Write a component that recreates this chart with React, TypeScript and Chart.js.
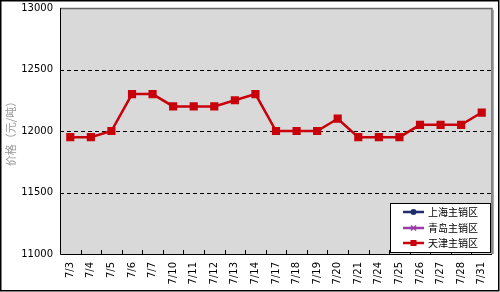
import React, { useEffect, useRef } from "react";
import { Chart, registerables } from "chart.js";

Chart.register(...registerables);

const categories = ["7/3","7/4","7/5","7/6","7/7","7/10","7/11","7/12","7/13","7/14","7/17","7/18","7/19","7/20","7/21","7/24","7/25","7/26","7/27","7/28","7/31"];
const tianjin = [11950,11950,12000,12300,12300,12200,12200,12200,12250,12300,12000,12000,12000,12100,11950,11950,11950,12050,12050,12050,12150];
const shanghai: (number | null)[] = [];
const qingdao: (number | null)[] = [];
const seriesNames = ["上海主销区", "青岛主销区", "天津主销区"];
const seriesColors = ["#1F2F6E", "#9B3BA6", "#C8000A"];
const yTitle = "价格（元/吨）";
const gridValues = [11500, 12000, 12500];

const decorPlugin = {
  id: "decor",
  beforeDraw(chart: any) {
    const { ctx, chartArea: a } = chart;
    const y = chart.scales.y;
    const x = chart.scales.x;
    ctx.save();
    ctx.fillStyle = "#D9D9D9";
    ctx.fillRect(a.left, a.top, a.right - a.left, a.bottom - a.top);
    // dashed grid
    ctx.strokeStyle = "#000";
    ctx.lineWidth = 1;
    ctx.setLineDash([4, 3]);
    for (const v of gridValues) {
      const py = Math.round(y.getPixelForValue(v)) + 0.5;
      ctx.beginPath();
      ctx.moveTo(a.left, py);
      ctx.lineTo(a.right, py);
      ctx.stroke();
    }
    ctx.setLineDash([]);
    // top/right gray border with shadow
    ctx.strokeStyle = "#AAAAAA";
    ctx.lineWidth = 1;
    ctx.beginPath();
    ctx.moveTo(a.right + 1.5, a.top + 2);
    ctx.lineTo(a.right + 1.5, a.bottom);
    ctx.stroke();
    ctx.strokeStyle = "#666666";
    ctx.lineWidth = 1.5;
    ctx.beginPath();
    ctx.moveTo(a.left, a.top + 0.5);
    ctx.lineTo(a.right, a.top + 0.5);
    ctx.lineTo(a.right, a.bottom);
    ctx.stroke();
    // axes
    ctx.strokeStyle = "#000";
    ctx.lineWidth = 1;
    ctx.beginPath();
    ctx.moveTo(a.left + 0.5, a.top);
    ctx.lineTo(a.left + 0.5, a.bottom + 0.5);
    ctx.lineTo(a.right, a.bottom + 0.5);
    ctx.stroke();
    // inner ticks at category boundaries
    const n = categories.length;
    const step = (x.getPixelForValue(1) - x.getPixelForValue(0));
    ctx.beginPath();
    for (let i = 1; i < n; i++) {
      const px = Math.round(x.getPixelForValue(i) - step / 2) + 0.5;
      ctx.moveTo(px, a.bottom);
      ctx.lineTo(px, a.bottom - 4);
    }
    ctx.stroke();
    // y title
    ctx.save();
    ctx.translate(11, (a.top + a.bottom) / 2);
    ctx.rotate(-Math.PI / 2);
    ctx.fillStyle = "#999999";
    ctx.font = "11px 'Noto Sans CJK SC'";
    ctx.textAlign = "center";
    ctx.textBaseline = "middle";
    ctx.fillText(yTitle, 0, 0);
    ctx.restore();
    ctx.restore();
  },
  afterDraw(chart: any) {
    const { ctx } = chart;
    ctx.save();
    // legend
    const lx = 390, ly = 203, lw = 100, lh = 49;
    ctx.fillStyle = "#fff";
    ctx.fillRect(lx, ly, lw, lh);
    ctx.strokeStyle = "#000";
    ctx.lineWidth = 1;
    ctx.strokeRect(lx + 0.5, ly + 0.5, lw, lh);
    const rows = [212, 228, 243];
    for (let i = 0; i < 3; i++) {
      const ry = rows[i];
      const c = seriesColors[i];
      ctx.strokeStyle = c;
      ctx.lineWidth = 2.5;
      ctx.beginPath();
      ctx.moveTo(403, ry);
      ctx.lineTo(424, ry);
      ctx.stroke();
      ctx.fillStyle = c;
      if (i === 0) {
        ctx.beginPath();
        ctx.arc(413.5, ry, 3, 0, Math.PI * 2);
        ctx.fill();
      } else if (i === 1) {
        ctx.lineWidth = 1.5;
        ctx.beginPath();
        ctx.moveTo(411, ry - 2.5);
        ctx.lineTo(416, ry + 2.5);
        ctx.moveTo(416, ry - 2.5);
        ctx.lineTo(411, ry + 2.5);
        ctx.stroke();
      } else {
        ctx.fillRect(410.5, ry - 3, 6, 6);
      }
      ctx.fillStyle = "#000";
      ctx.font = "10px 'Noto Sans CJK SC'";
      ctx.textAlign = "left";
      ctx.textBaseline = "middle";
      ctx.fillText(seriesNames[i], 428, ry);
    }
    // outer frame
    ctx.strokeStyle = "#000";
    ctx.lineWidth = 1.5;
    ctx.strokeRect(0.75, 0.75, 498, 290);
    ctx.restore();
  },
};

export default function App() {
  const ref = useRef<HTMLCanvasElement | null>(null);
  useEffect(() => {
    document.body.style.margin = "0";
    if (!ref.current) return;
    const chart = new Chart(ref.current, {
      type: "line",
      data: {
        labels: categories,
        datasets: [
          { label: seriesNames[0], data: shanghai, borderColor: seriesColors[0], backgroundColor: seriesColors[0], pointStyle: "circle", borderWidth: 2.5, pointRadius: 3 },
          { label: seriesNames[1], data: qingdao, borderColor: seriesColors[1], backgroundColor: seriesColors[1], pointStyle: "crossRot", borderWidth: 2.5, pointRadius: 3 },
          { label: seriesNames[2], data: tianjin, borderColor: seriesColors[2], backgroundColor: seriesColors[2], pointStyle: "rect", borderWidth: 2.5, pointRadius: 4, tension: 0 },
        ],
      },
      options: {
        animation: false,
        responsive: false,
        maintainAspectRatio: false,
        layout: { padding: { top: 8, right: 8, left: 0, bottom: 0 } },
        plugins: { legend: { display: false }, tooltip: { enabled: false } },
        scales: {
          x: {
            type: "category",
            offset: true,
            grid: { display: false, drawTicks: false },
            border: { display: false },
            ticks: {
              autoSkip: false,
              minRotation: 90,
              maxRotation: 90,
              padding: 8,
              color: "#000",
              font: { family: "'DejaVu Sans'", size: 10 },
            },
            afterFit: (s: any) => { s.height = 38; s.paddingLeft = 0; s.paddingRight = 0; },
          },
          y: {
            min: 11000,
            max: 13000,
            grid: { display: false, drawTicks: false },
            border: { display: false },
            ticks: {
              stepSize: 500,
              padding: 7,
              color: "#000",
              font: { family: "'DejaVu Sans'", size: 10 },
              callback: (v: any) => String(v),
            },
            afterFit: (s: any) => { s.width = 60; s.paddingTop = 0; s.paddingBottom = 0; },
          },
        },
      },
      plugins: [decorPlugin],
    } as any);
    return () => chart.destroy();
  }, []);
  return (
    <div style={{ position: "fixed", left: 0, top: 0, width: 500, height: 292 }}>
      <canvas ref={ref} width={500} height={292} style={{ width: 500, height: 292, display: "block" }} />
    </div>
  );
}
